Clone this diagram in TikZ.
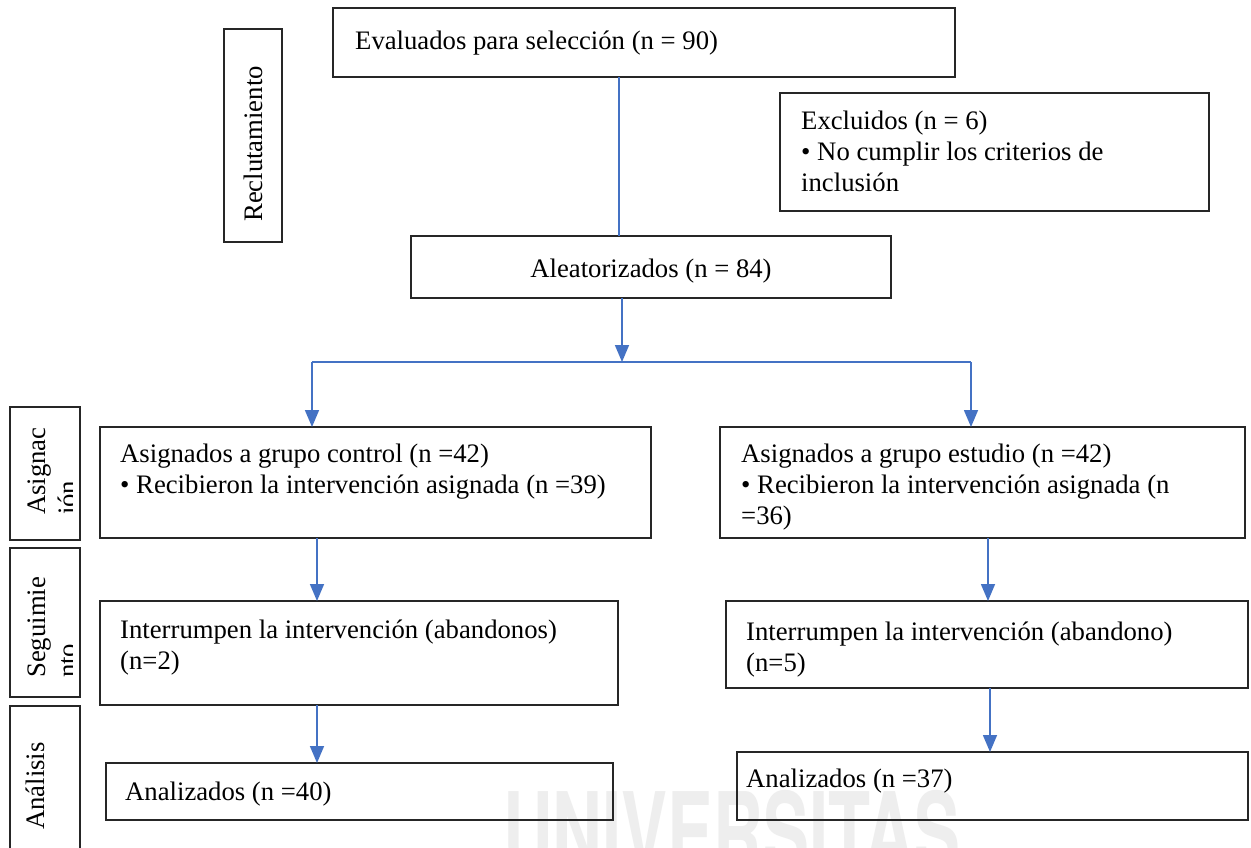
\documentclass[tikz,border=0pt]{standalone}
\usepackage{fontspec}
\setmainfont{Liberation Serif}
\newfontfamily\wmfont{TeX Gyre Heros}
\usetikzlibrary{arrows.meta,calc}
\definecolor{arrowblue}{HTML}{4472C4}
\definecolor{wmgray}{HTML}{EEEEEE}
\newcommand{\fs}{\fontsize{26.7}{31}\selectfont}
\begin{document}
\begin{tikzpicture}[x=1pt,y=-1pt,
  box/.style={draw=black!85, line width=1.3pt, inner sep=0pt, outer sep=0pt, anchor=north west},
  txt/.style={font=\fs, align=left, inner sep=0pt, anchor=base west},
  vtxt/.style={font=\fs, align=left, inner sep=0pt, anchor=base west, rotate=90},
  conn/.style={draw=arrowblue, line width=1.6pt},
  arr/.style={conn, -{Triangle[width=14pt,length=17pt]}},
]
\useasboundingbox (0,0) rectangle (1251,847);
\fill[white] (0,0) rectangle (1251,847);
% watermark
\node[font=\wmfont\bfseries\fontsize{111}{111}\selectfont, text=wmgray, anchor=base west, inner sep=0pt, xscale=0.62] (wm) at (503,872) {UNIVERSITAS};
% boxes
\node[box, minimum width=622pt, minimum height=69pt] (eval) at (333,8) {};
\node[box, minimum width=58pt, minimum height=213pt] (recl) at (224,29) {};
\node[box, minimum width=429pt, minimum height=118pt] (excl) at (780,93) {};
\node[box, minimum width=480pt, minimum height=62pt] (alea) at (411,236) {};
\node[box, minimum width=70pt, minimum height=133pt] (asig) at (10,407) {};
\node[box, minimum width=70pt, minimum height=149pt] (segu) at (10,548) {};
\node[box, minimum width=70pt, minimum height=170pt] (anal) at (10,706) {};
\node[box, minimum width=551pt, minimum height=111pt] (ctrl) at (100,427) {};
\node[box, minimum width=525pt, minimum height=111pt] (estu) at (720,427) {};
\node[box, minimum width=518pt, minimum height=104pt] (intL) at (100,601) {};
\node[box, minimum width=522pt, minimum height=87pt] (intR) at (726,601) {};
\node[box, minimum width=507pt, minimum height=57pt] (anaL) at (106,763) {};
\node[box, minimum width=511pt, minimum height=68pt] (anaR) at (737,752) {};
% texts (base = baseline of the last line)
\node[txt] (evalt) at (355,49) {Evaluados para selección (n = 90)};
\node[txt] (exclt) at (801,191) {Excluidos (n = 6)\\• No cumplir los criterios de\\inclusión};
\node[txt, anchor=base] (aleat) at (651,277) {Aleatorizados (n = 84)};
\node[txt] (ctrlt) at (120,493) {Asignados a grupo control (n =42)\\• Recibieron la intervención asignada (n =39)};
\node[txt] (estut) at (741,524) {Asignados a grupo estudio (n =42)\\• Recibieron la intervención asignada (n\\=36)};
\node[txt] (intLt) at (120,669) {Interrumpen la intervención (abandonos)\\(n=2)};
\node[txt] (intRt) at (746,671) {Interrumpen la intervención (abandono)\\(n=5)};
\node[txt] (anaLt) at (125,800) {Analizados (n =40)};
\node[txt] (anaRt) at (746,787) {Analizados (n =37)};
% vertical labels
\node[vtxt] (reclt) at (262,222) {Reclutamiento};
\begin{scope}
\clip (10,407) rectangle (72,540);
\node[vtxt] (asigt) at (76,515) {Asignac\\ión};
\end{scope}
\begin{scope}
\clip (10,548) rectangle (72,697);
\node[vtxt] (segut) at (76,678) {Seguimie\\nto};
\end{scope}
\node[vtxt] (analt) at (45,830) {Análisis};
% connectors
\coordinate (e1) at ([xshift=286pt]eval.south west);
\draw[conn] (e1) -- (e1 |- alea.north);
\coordinate (j) at (622,362);
\coordinate (jl) at (312,362);
\coordinate (jr) at (971,362);
\draw[arr] (j |- alea.south) -- (j);
\draw[conn, line width=2.4pt] (jl) -- (jr);
\draw[arr] (jl) -- (jl |- ctrl.north);
\draw[arr] (jr) -- (jr |- estu.north);
\coordinate (c1) at ([xshift=217pt]ctrl.south west);
\draw[arr] (c1) -- (c1 |- intL.north);
\coordinate (c2) at ([xshift=268pt]estu.south west);
\draw[arr] (c2) -- (c2 |- intR.north);
\coordinate (c3) at ([xshift=217pt]intL.south west);
\draw[arr] (c3) -- (c3 |- anaL.north);
\coordinate (c4) at ([xshift=264pt]intR.south west);
\draw[arr] (c4) -- (c4 |- anaR.north);
\end{tikzpicture}
\end{document}
